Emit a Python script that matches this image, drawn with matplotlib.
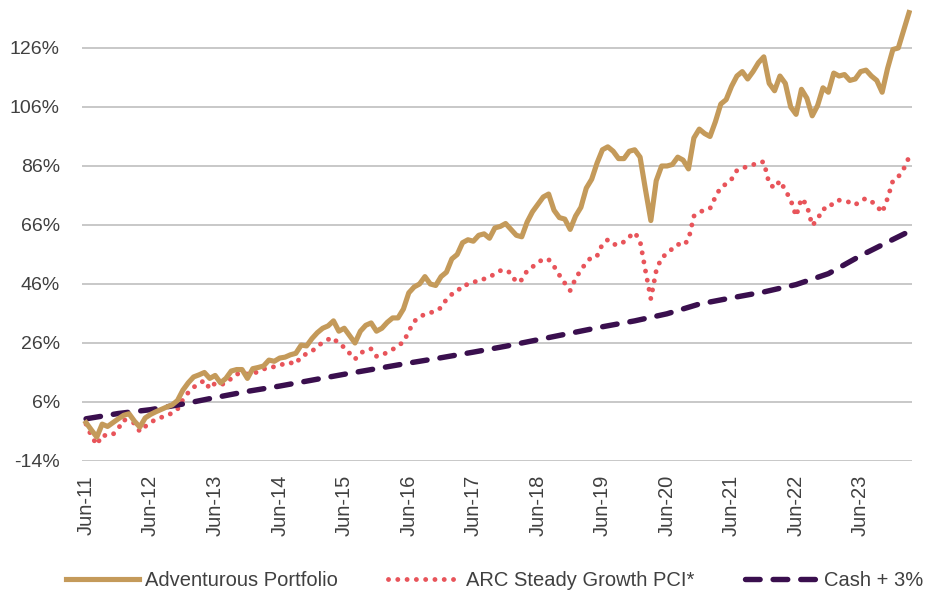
import matplotlib.pyplot as plt
import numpy as np

# monthly data, Jun-11 .. Mar-24 (cumulative % return)
adventurous = [
    -1, -3.5, -5.9, -1.5, -2.3, -1, 0.3, 1.5, 2, -0.5, -2.5, 0.6,
    1.8, 2.7, 3.5, 4.3, 5, 6.5, 10, 12.5, 14.5, 15.2, 16, 14,
    15, 12.5, 14, 16.5, 17, 17, 14, 17.3, 17.7, 18.2, 20.2, 19.8,
    20.9, 21.2, 22, 22.5, 25.3, 25, 27.5, 29.5, 31, 31.8, 33.5, 30,
    31, 28.5, 26, 30, 32, 32.8, 30, 31, 33, 34.5, 34.5, 37.5,
    43, 45, 46, 48.5, 46, 45.5, 48.5, 50, 54.5, 56, 60, 61,
    60.5, 62.5, 63, 61.5, 65, 65.5, 66.5, 64.5, 62.5, 62, 67, 70.5,
    73, 75.5, 76.5, 71, 68.5, 68, 64.5, 69, 72, 78.5, 81.5, 87,
    91.5, 92.5, 91, 88.5, 88.5, 91, 91.5, 89, 78, 67.5, 81, 86,
    86, 86.5, 89, 88, 85, 95.5, 98.5, 97, 96, 101, 107, 108.5,
    113, 116.5, 118, 115.5, 118, 121, 123, 114, 111.5, 116.5, 114, 106,
    103.5, 112, 109, 103, 106.5, 112.5, 111, 117.5, 116.5, 117, 115, 115.5,
    118, 118.5, 116.5, 115, 111, 119, 125.5, 126, 132, 138,
]
arc = [
    -1.5, -5.5, -8.5, -5.2, -5.5, -5, -3, 0, -0.5, -1.2, -4, -2.3,
    -1, 0.2, 0.8, 1.3, 2.3, 3.5, 6.8, 9.2, 11, 12.2, 13.3, 10.5,
    12.4, 11.9, 12.3, 14, 15.5, 15.5, 15.5, 15.6, 16.3, 17.1, 17.9, 17.9,
    18.3, 19.2, 19.3, 18.9, 21.5, 22.3, 23.2, 24.8, 26.2, 27.2, 27.8, 25.5,
    24.6, 22.5, 20.5, 22.5, 23.6, 24, 21.5, 21.8, 22.9, 23.8, 25.2, 26.2,
    30, 33.3, 34.9, 35.7, 36.3, 36.7, 38, 40.8, 42.5, 43.4, 45.6, 45.8,
    46.4, 47.5, 47.7, 48.3, 49.5, 50.5, 50.8, 49.6, 46.5, 47.4, 50.5, 51.8,
    53.2, 54.5, 54.3, 52, 49, 46.3, 43.8, 47.8, 50.8, 53.2, 55.2, 55.5,
    59.5, 61, 59.5, 59.2, 60.3, 62, 63.5, 60.5, 50.5, 41, 50.5, 55,
    56.2, 58, 59.5, 59, 61, 69, 70.4, 71, 71.6, 75.5, 78.8, 79.9,
    81.5, 84.5, 85.4, 85.7, 86.4, 87.3, 87.4, 80, 78.5, 81, 77.8, 74.5,
    69, 75, 72.8, 65.8, 68, 71.5, 71.5, 73.8, 74.4, 74.1, 73.7, 72.8,
    74.3, 75, 74, 72.5, 70.2, 75, 81, 82.3, 85, 89,
]
# cash + 3%, read every six months
cash_idx = [0, 6, 12, 18, 24, 30, 36, 42, 48, 54, 60, 66, 72, 78, 84, 90, 96,
            102, 108, 114, 120, 126, 132, 138, 144, 150, 153]
cash = [0.3, 2.1, 3.4, 5.3, 7.5, 9.6, 11.4, 13.4, 15.4, 17.3, 19.2, 21.0, 22.9,
        24.9, 27.1, 29.3, 31.5, 33.5, 35.9, 39.2, 41.3, 43.3, 45.8, 49.5, 55.6,
        61.1, 63.8]

xlabels = ['Jun-11', 'Jun-12', 'Jun-13', 'Jun-14', 'Jun-15', 'Jun-16', 'Jun-17',
           'Jun-18', 'Jun-19', 'Jun-20', 'Jun-21', 'Jun-22', 'Jun-23']
yticks = [-14, 6, 26, 46, 66, 86, 106, 126]

plt.rcParams['font.family'] = ['Liberation Sans', 'DejaVu Sans']

fig = plt.figure(figsize=(9.33, 5.92), dpi=100)
ax = fig.add_axes([82 / 933, 0.2213, 830 / 933, 0.7674])

n = len(adventurous)
x = np.arange(n)
ax.plot(x, adventurous, color='#C49A5A', lw=3.7, label='Adventurous Portfolio',
        solid_joinstyle='round', zorder=3)
ax.plot(x, arc, color='#E8545A', lw=3.5, linestyle=(0, (0.01, 1.9)),
        dash_capstyle='round', label='ARC Steady Growth PCI*', zorder=2)
ax.plot(cash_idx, cash, color='#3A0F4E', lw=3.9, linestyle=(0, (2.7, 2.4)),
        dash_capstyle='round', label='Cash + 3%', zorder=2)

ax.set_xlim(-0.75, n - 0.45)
ax.set_ylim(-14, 140)
ax.set_yticks(yticks)
ax.set_yticklabels([f'{v}%' for v in yticks], fontsize=14)
ax.set_xticks(range(0, 12 * len(xlabels), 12))
ax.set_xticklabels(xlabels, rotation=90, fontsize=14.5)
ax.tick_params(length=0, colors='#404040')
ax.tick_params(axis='y', pad=16)
ax.tick_params(axis='x', pad=10)
ax.grid(axis='y', color='#BFBFBF', lw=1.2)
ax.set_axisbelow(True)
for s in ax.spines.values():
    s.set_visible(False)

leg = fig.legend(loc='lower center', ncol=3, frameon=False, fontsize=14.5,
                 handlelength=3.6, handletextpad=0.3, columnspacing=2.5,
                 bbox_to_anchor=(0.53, -0.028))
for t in leg.get_texts():
    t.set_color('#404040')

plt.savefig('out.png', dpi=100)
